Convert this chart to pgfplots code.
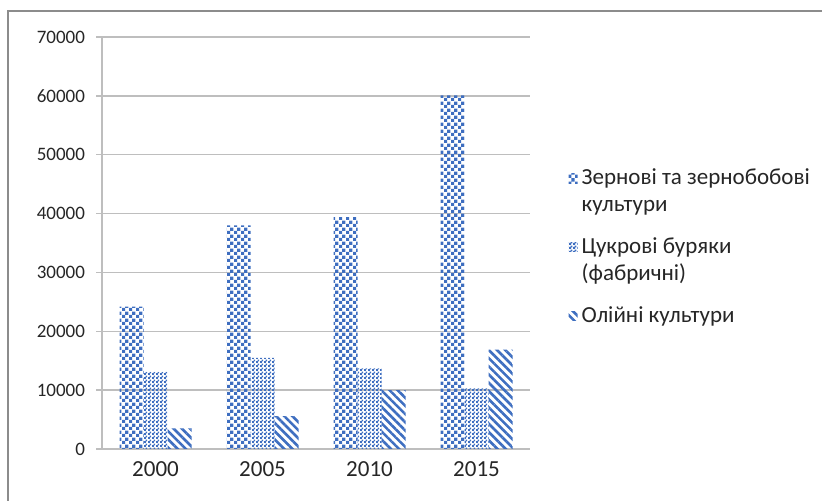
\documentclass[border=0pt]{standalone}
\usepackage{fontspec}
\setmainfont{Carlito}
\usepackage{pgfplots}
\pgfplotsset{compat=1.18}
\usetikzlibrary{patterns.meta}
\definecolor{barblue}{RGB}{62,110,192}
\definecolor{gridgray}{RGB}{190,190,190}
\definecolor{framegray}{RGB}{140,140,140}
\pgfdeclarepattern{
  name=BigCheck,
  type=uncolored,
  bottom left={\pgfpoint{0pt}{0pt}},
  top right={\pgfpoint{3.6pt}{3.6pt}},
  tile size={\pgfpoint{3.6pt}{3.6pt}},
  code={
    \pgfpathrectangle{\pgfpointorigin}{\pgfpoint{1.8pt}{1.8pt}}
    \pgfpathrectangle{\pgfpoint{1.8pt}{1.8pt}}{\pgfpoint{1.8pt}{1.8pt}}
    \pgfusepath{fill}
  }
}
\pgfdeclarepattern{
  name=SmallCheck,
  type=uncolored,
  bottom left={\pgfpoint{0pt}{0pt}},
  top right={\pgfpoint{1.8pt}{1.8pt}},
  tile size={\pgfpoint{1.8pt}{1.8pt}},
  code={
    \pgfpathrectangle{\pgfpointorigin}{\pgfpoint{1.1pt}{1.1pt}}
    \pgfpathrectangle{\pgfpoint{0.9pt}{0.9pt}}{\pgfpoint{0.9pt}{0.9pt}}
    \pgfusepath{fill}
  }
}
\begin{document}
\begin{tikzpicture}[x=1pt,y=1pt]
\useasboundingbox (0,0) rectangle (411,250.5);
\draw[framegray, line width=1pt] (4,0) -- (4,245) -- (411,245);
\begin{axis}[
  at={(51pt,26pt)}, anchor=south west,
  scale only axis, width=214pt, height=206pt,
  ymin=0, ymax=70000, ytick={0,10000,...,70000},
  xmin=-0.5, xmax=3.5, xtick={0,1,2,3}, xticklabels={2000,2005,2010,2015},
  major x tick style={draw=none},
  extra x ticks={-0.5,0.5,1.5,2.5,3.5}, extra x tick labels={},
  extra x tick style={grid=none, tick style={draw=gridgray, line width=0.75pt}},
  tick align=outside, major tick length=3pt,
  ytick style={draw=gridgray, line width=0.75pt},
  ymajorgrids, grid style={gridgray, line width=0.75pt},
  axis x line*=bottom, axis y line*=left,
  axis line style={gridgray, line width=0.75pt},
  ybar=0pt, bar width=12pt,
  scaled y ticks=false,
  /pgf/number format/assume math mode=true,
  y tick label style={/pgf/number format/fixed, /pgf/number format/1000 sep={}, xshift=-2pt,
    font=\fontsize{9.5}{11}\selectfont, text=black!85},
  x tick label style={font=\fontsize{11.5}{13}\selectfont, text=black!85},
  legend style={at={(1.075,0.7)}, anchor=north west, draw=none, fill=none,
    font=\fontsize{11.5}{13.5}\selectfont, text=black!85, row sep=7.5pt,
    nodes={align=left}},
  legend cell align=left,
  legend image code/.code={\draw[#1, draw=none] (-1pt,-2.3pt) rectangle (3.6pt,2.3pt);},
  twoline/.style={legend image code/.code={\draw[##1, draw=none] (-1pt,4.45pt) rectangle (3.6pt,9.05pt);}},
]
\addplot[draw=none, pattern=BigCheck, pattern color=barblue, twoline] coordinates {(0,24200) (1,38000) (2,39400) (3,60100)};
\addplot[draw=none, pattern=SmallCheck, pattern color=barblue, twoline] coordinates {(0,13100) (1,15500) (2,13700) (3,10300)};
\addplot[draw=none, pattern={Lines[angle=-45, distance=2.9pt, line width=1.3pt]}, pattern color=barblue] coordinates {(0,3500) (1,5600) (2,10000) (3,16900)};
\legend{{Зернові та зернобобові\\культури},{Цукрові буряки\\(фабричні)},{Олійні культури}}
\end{axis}
\end{tikzpicture}
\end{document}
